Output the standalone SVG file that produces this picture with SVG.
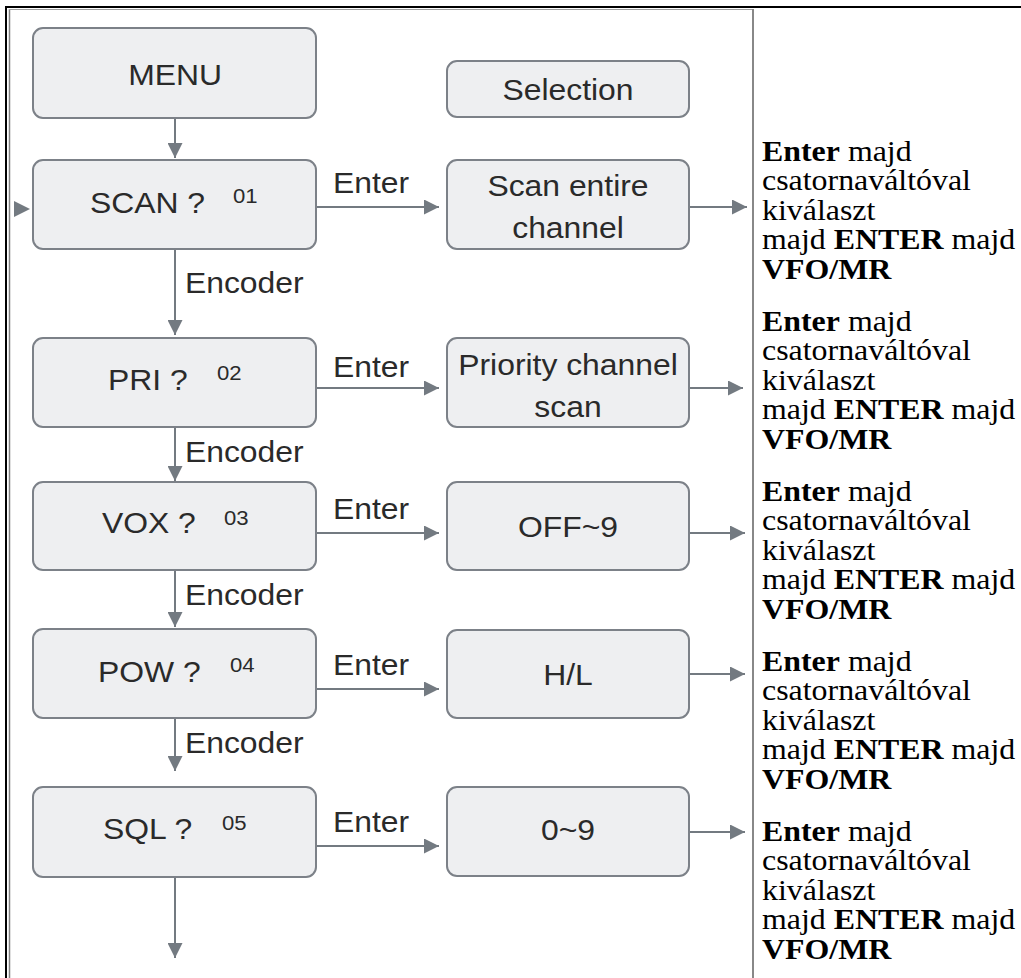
<svg xmlns="http://www.w3.org/2000/svg" width="1021" height="978" viewBox="0 0 1021 978">
<style>
.box{fill:#eeeff1;stroke:#7c8188;stroke-width:2}
.lbl{font-family:"Liberation Sans",Arial,sans-serif;font-size:29.5px;fill:#2a2a2a}
.num{font-family:"Liberation Sans",Arial,sans-serif;font-size:20.5px;fill:#2a2a2a}
.mid{text-anchor:middle}
.edge{stroke:#737a81;stroke-width:2;fill:none;marker-end:url(#ah)}
.rt{font-family:"Liberation Serif","Times New Roman",serif;font-size:29px;fill:#000}
.b{font-weight:bold}
</style>
<defs>
<marker id="ah" viewBox="0 0 15 15" refX="15" refY="7.5" markerWidth="15" markerHeight="15" markerUnits="userSpaceOnUse" orient="auto"><path d="M0,0 L15,7.5 L0,15 z" fill="#737a81"/></marker>
</defs>
<rect width="1021" height="978" fill="#fff"/>
<g id="frame">
<line x1="6" y1="6" x2="6" y2="978" stroke="#000" stroke-width="2"/>
<line x1="5" y1="7" x2="1021" y2="7" stroke="#000" stroke-width="2"/>
<line x1="9.5" y1="9" x2="9.5" y2="978" stroke="#808080" stroke-width="1.5"/>
<line x1="9" y1="9.5" x2="753" y2="9.5" stroke="#a0a0a0" stroke-width="1"/>
<line x1="753" y1="9" x2="753" y2="978" stroke="#888" stroke-width="2"/>
</g>
<g id="connectors">
<path class="edge" d="M175,118 V158"/>
<path class="edge" d="M175,249 V335"/>
<path class="edge" d="M175,427 V481"/>
<path class="edge" d="M175,570 V627"/>
<path class="edge" d="M175,718 V771"/>
<path class="edge" d="M175,877 V958"/>
<path class="edge" d="M316,207 H439"/>
<path class="edge" d="M316,388 H439"/>
<path class="edge" d="M316,533 H439"/>
<path class="edge" d="M316,689 H439"/>
<path class="edge" d="M316,846 H439"/>
<path class="edge" d="M689,207 H747"/>
<path class="edge" d="M689,388 H743"/>
<path class="edge" d="M689,533 H745"/>
<path class="edge" d="M689,674 H745"/>
<path class="edge" d="M689,832 H745"/>
<polygon points="14,201 30,209 14,217" fill="#737a81"/>
<text class="lbl" transform="translate(333,193) scale(1.08,1)">Enter</text>
<text class="lbl" transform="translate(333,377) scale(1.08,1)">Enter</text>
<text class="lbl" transform="translate(333,519) scale(1.08,1)">Enter</text>
<text class="lbl" transform="translate(333,675) scale(1.08,1)">Enter</text>
<text class="lbl" transform="translate(333,832) scale(1.08,1)">Enter</text>
<text class="lbl" transform="translate(185,293) scale(1.08,1)">Encoder</text>
<text class="lbl" transform="translate(185,462) scale(1.08,1)">Encoder</text>
<text class="lbl" transform="translate(185,605) scale(1.08,1)">Encoder</text>
<text class="lbl" transform="translate(185,753) scale(1.08,1)">Encoder</text>
</g>
<g id="menu">
<rect class="box" x="33" y="28" width="283" height="90" rx="10"/>
<text class="lbl mid" transform="translate(175,85) scale(1.08,1)">MENU</text>
</g>
<g id="scan">
<rect class="box" x="33" y="160" width="283" height="89" rx="10"/>
<text class="lbl" transform="translate(90,213) scale(1.08,1)">SCAN ?</text>
<text class="num" transform="translate(233,203) scale(1.08,1)">01</text>
</g>
<g id="pri">
<rect class="box" x="33" y="338" width="283" height="89" rx="10"/>
<text class="lbl" transform="translate(108,390) scale(1.08,1)">PRI ?</text>
<text class="num" transform="translate(217,380) scale(1.08,1)">02</text>
</g>
<g id="vox">
<rect class="box" x="33" y="482" width="283" height="88" rx="10"/>
<text class="lbl" transform="translate(102,533) scale(1.08,1)">VOX ?</text>
<text class="num" transform="translate(224,525) scale(1.08,1)">03</text>
</g>
<g id="pow">
<rect class="box" x="33" y="629" width="283" height="89" rx="10"/>
<text class="lbl" transform="translate(98,682) scale(1.08,1)">POW ?</text>
<text class="num" transform="translate(230,672) scale(1.08,1)">04</text>
</g>
<g id="sql">
<rect class="box" x="33" y="787" width="283" height="90" rx="10"/>
<text class="lbl" transform="translate(103,839) scale(1.08,1)">SQL ?</text>
<text class="num" transform="translate(222,830) scale(1.08,1)">05</text>
</g>
<g id="selection">
<rect class="box" x="447" y="61" width="242" height="56" rx="10"/>
<text class="lbl mid" transform="translate(568,100) scale(1.08,1)">Selection</text>
</g>
<g id="scan-entire">
<rect class="box" x="447" y="160" width="242" height="89" rx="10"/>
<text class="lbl mid" transform="translate(568,196) scale(1.08,1)">Scan entire</text>
<text class="lbl mid" transform="translate(568,238) scale(1.08,1)">channel</text>
</g>
<g id="priority">
<rect class="box" x="447" y="338" width="242" height="89" rx="10"/>
<text class="lbl mid" transform="translate(568,375) scale(1.08,1)">Priority channel</text>
<text class="lbl mid" transform="translate(568,417) scale(1.08,1)">scan</text>
</g>
<g id="off9">
<rect class="box" x="447" y="482" width="242" height="88" rx="10"/>
<text class="lbl mid" transform="translate(568,537) scale(1.08,1)">OFF~9</text>
</g>
<g id="hl">
<rect class="box" x="447" y="630" width="242" height="88" rx="10"/>
<text class="lbl mid" transform="translate(568,685) scale(1.08,1)">H/L</text>
</g>
<g id="z9">
<rect class="box" x="447" y="787" width="242" height="89" rx="10"/>
<text class="lbl mid" transform="translate(568,840) scale(1.08,1)">0~9</text>
</g>
<g id="notes">
<g transform="translate(762,0) scale(1.1,1)">
<text class="rt" y="161"><tspan class="b">Enter</tspan> majd</text>
<text class="rt" y="190.5">csatornaváltóval</text>
<text class="rt" y="220">kiválaszt</text>
<text class="rt" y="249.5">majd <tspan class="b">ENTER</tspan> majd</text>
<text class="rt" y="279"><tspan class="b">VFO/MR</tspan></text>
<text class="rt" y="331"><tspan class="b">Enter</tspan> majd</text>
<text class="rt" y="360.5">csatornaváltóval</text>
<text class="rt" y="390">kiválaszt</text>
<text class="rt" y="419.5">majd <tspan class="b">ENTER</tspan> majd</text>
<text class="rt" y="449"><tspan class="b">VFO/MR</tspan></text>
<text class="rt" y="501"><tspan class="b">Enter</tspan> majd</text>
<text class="rt" y="530.5">csatornaváltóval</text>
<text class="rt" y="560">kiválaszt</text>
<text class="rt" y="589.5">majd <tspan class="b">ENTER</tspan> majd</text>
<text class="rt" y="619"><tspan class="b">VFO/MR</tspan></text>
<text class="rt" y="671"><tspan class="b">Enter</tspan> majd</text>
<text class="rt" y="700.5">csatornaváltóval</text>
<text class="rt" y="730">kiválaszt</text>
<text class="rt" y="759.5">majd <tspan class="b">ENTER</tspan> majd</text>
<text class="rt" y="789"><tspan class="b">VFO/MR</tspan></text>
<text class="rt" y="841"><tspan class="b">Enter</tspan> majd</text>
<text class="rt" y="870.5">csatornaváltóval</text>
<text class="rt" y="900">kiválaszt</text>
<text class="rt" y="929.5">majd <tspan class="b">ENTER</tspan> majd</text>
<text class="rt" y="959"><tspan class="b">VFO/MR</tspan></text>
</g>
</g>
</svg>
